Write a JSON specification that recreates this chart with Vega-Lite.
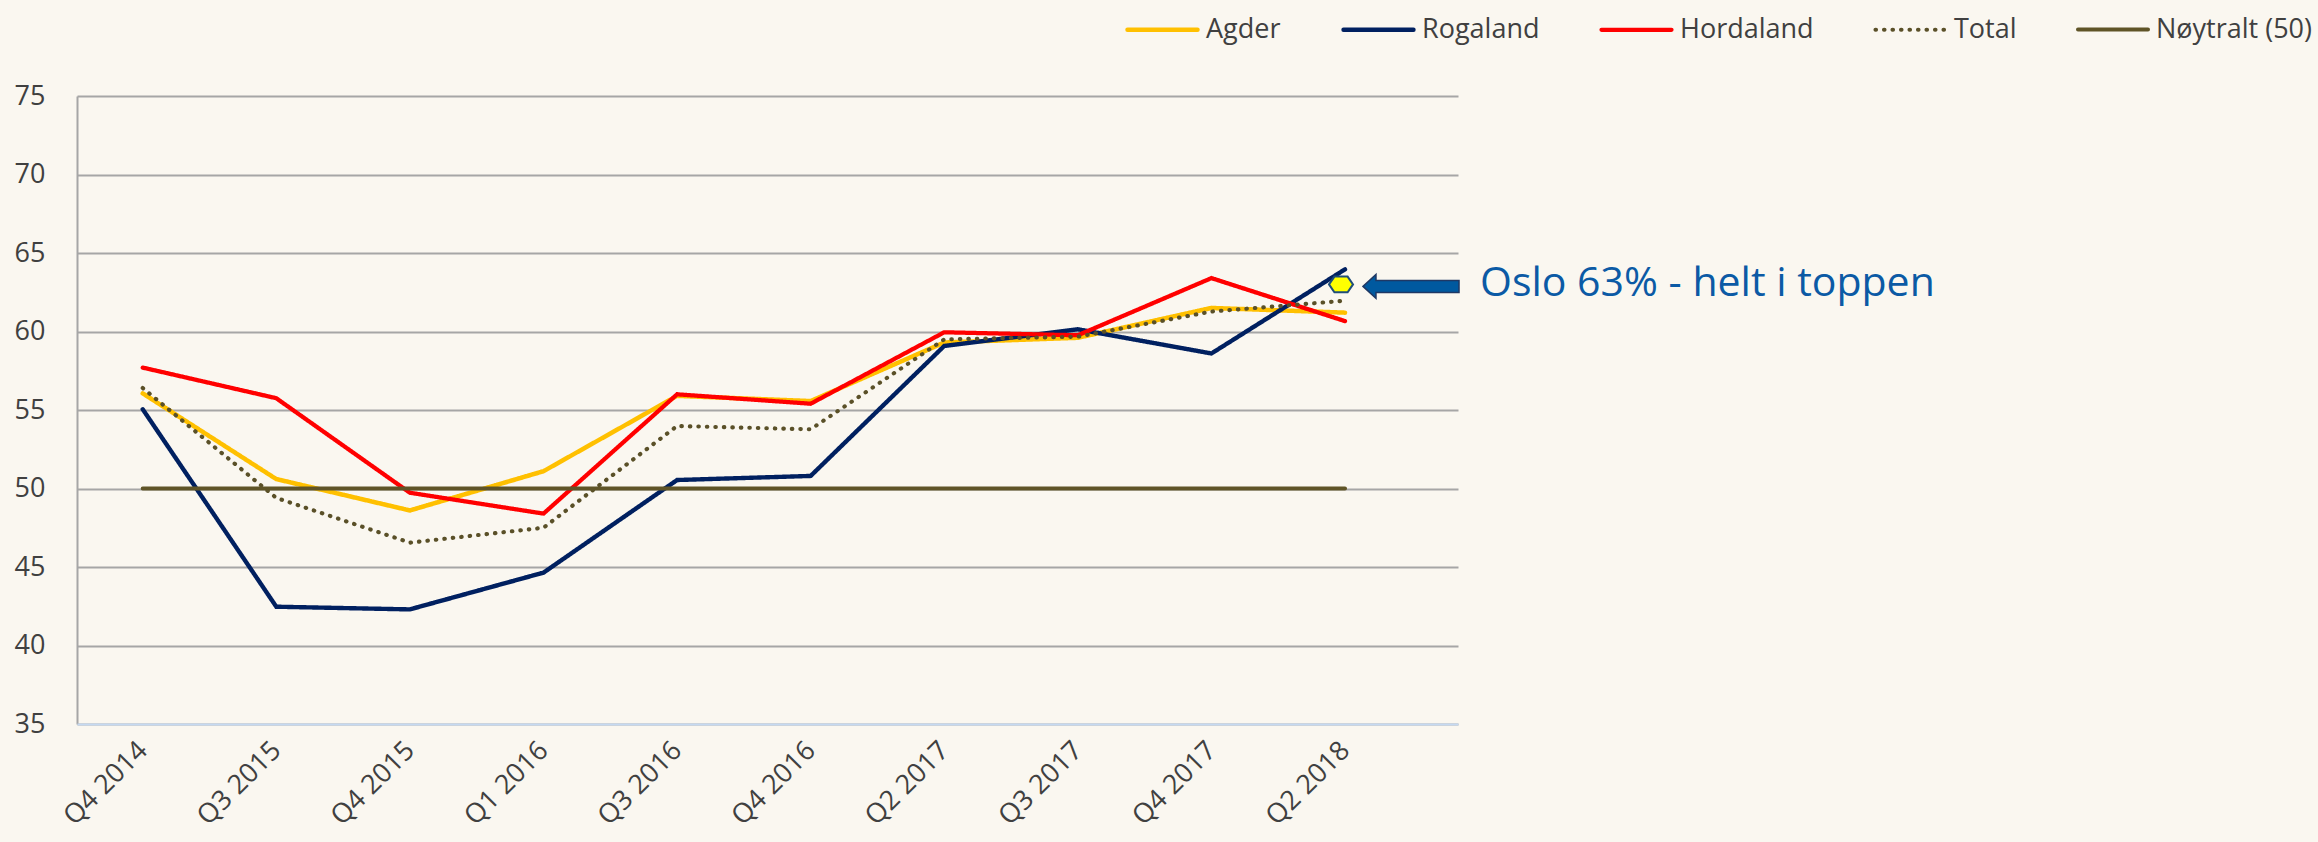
{
  "$schema": "https://vega.github.io/schema/vega-lite/v6.json",
  "autosize": {"type": "none"},
  "padding": {"left": 77, "top": 96, "right": 860, "bottom": 118},
  "width": 1381,
  "height": 628,
  "background": "#faf7f0",
  "config": {
    "view": {"stroke": null},
    "font": "Open Sans",
    "legend": {"labelFont": "Open Sans", "labelFontSize": 27, "labelColor": "#404040"}
  },
  "datasets": {
    "series": [
      {"quarter": "Q4 2014", "serie": "Agder", "value": 56.06},
      {"quarter": "Q3 2015", "serie": "Agder", "value": 50.6},
      {"quarter": "Q4 2015", "serie": "Agder", "value": 48.6},
      {"quarter": "Q1 2016", "serie": "Agder", "value": 51.1},
      {"quarter": "Q3 2016", "serie": "Agder", "value": 55.9},
      {"quarter": "Q4 2016", "serie": "Agder", "value": 55.57},
      {"quarter": "Q2 2017", "serie": "Agder", "value": 59.3},
      {"quarter": "Q3 2017", "serie": "Agder", "value": 59.6},
      {"quarter": "Q4 2017", "serie": "Agder", "value": 61.5},
      {"quarter": "Q2 2018", "serie": "Agder", "value": 61.2},
      {"quarter": "Q4 2014", "serie": "Rogaland", "value": 55.05},
      {"quarter": "Q3 2015", "serie": "Rogaland", "value": 42.47},
      {"quarter": "Q4 2015", "serie": "Rogaland", "value": 42.3},
      {"quarter": "Q1 2016", "serie": "Rogaland", "value": 44.64},
      {"quarter": "Q3 2016", "serie": "Rogaland", "value": 50.54},
      {"quarter": "Q4 2016", "serie": "Rogaland", "value": 50.8},
      {"quarter": "Q2 2017", "serie": "Rogaland", "value": 59.08},
      {"quarter": "Q3 2017", "serie": "Rogaland", "value": 60.14},
      {"quarter": "Q4 2017", "serie": "Rogaland", "value": 58.6},
      {"quarter": "Q2 2018", "serie": "Rogaland", "value": 63.96},
      {"quarter": "Q4 2014", "serie": "Hordaland", "value": 57.7},
      {"quarter": "Q3 2015", "serie": "Hordaland", "value": 55.75},
      {"quarter": "Q4 2015", "serie": "Hordaland", "value": 49.73},
      {"quarter": "Q1 2016", "serie": "Hordaland", "value": 48.4},
      {"quarter": "Q3 2016", "serie": "Hordaland", "value": 56.0},
      {"quarter": "Q4 2016", "serie": "Hordaland", "value": 55.4},
      {"quarter": "Q2 2017", "serie": "Hordaland", "value": 59.95},
      {"quarter": "Q3 2017", "serie": "Hordaland", "value": 59.76},
      {"quarter": "Q4 2017", "serie": "Hordaland", "value": 63.4},
      {"quarter": "Q2 2018", "serie": "Hordaland", "value": 60.66},
      {"quarter": "Q4 2014", "serie": "Total", "value": 56.4},
      {"quarter": "Q3 2015", "serie": "Total", "value": 49.4},
      {"quarter": "Q4 2015", "serie": "Total", "value": 46.55},
      {"quarter": "Q1 2016", "serie": "Total", "value": 47.5},
      {"quarter": "Q3 2016", "serie": "Total", "value": 53.98},
      {"quarter": "Q4 2016", "serie": "Total", "value": 53.77},
      {"quarter": "Q2 2017", "serie": "Total", "value": 59.5},
      {"quarter": "Q3 2017", "serie": "Total", "value": 59.67},
      {"quarter": "Q4 2017", "serie": "Total", "value": 61.27},
      {"quarter": "Q2 2018", "serie": "Total", "value": 61.96},
      {"quarter": "Q4 2014", "serie": "Nøytralt (50)", "value": 50},
      {"quarter": "Q3 2015", "serie": "Nøytralt (50)", "value": 50},
      {"quarter": "Q4 2015", "serie": "Nøytralt (50)", "value": 50},
      {"quarter": "Q1 2016", "serie": "Nøytralt (50)", "value": 50},
      {"quarter": "Q3 2016", "serie": "Nøytralt (50)", "value": 50},
      {"quarter": "Q4 2016", "serie": "Nøytralt (50)", "value": 50},
      {"quarter": "Q2 2017", "serie": "Nøytralt (50)", "value": 50},
      {"quarter": "Q3 2017", "serie": "Nøytralt (50)", "value": 50},
      {"quarter": "Q4 2017", "serie": "Nøytralt (50)", "value": 50},
      {"quarter": "Q2 2018", "serie": "Nøytralt (50)", "value": 50}
    ],
    "oslo": [
      {"quarter": "Q2 2018", "value": 63, "label": "Oslo 63% - helt i toppen"}
    ]
  },
  "encoding": {
    "x": {
      "field": "quarter",
      "type": "ordinal",
      "sort": null,
      "scale": {"type": "point", "padding": 0.6688, "align": 0.3677},
      "axis": {
        "title": null,
        "labelAngle": -45,
        "labelAlign": "right",
        "labelBaseline": "middle",
        "labelFont": "Open Sans",
        "labelFontSize": 27,
        "labelColor": "#404040",
        "labelPadding": 22,
        "ticks": false,
        "grid": false,
        "domainColor": "#c5d9f1",
        "domainWidth": 2,
        "zindex": 1
      }
    },
    "y": {
      "field": "value",
      "type": "quantitative",
      "scale": {"domain": [35, 75], "nice": false, "zero": false},
      "axis": {
        "title": null,
        "values": [35, 40, 45, 50, 55, 60, 65, 70, 75],
        "labelFont": "Open Sans",
        "labelFontSize": 27,
        "labelColor": "#404040",
        "labelPadding": 32,
        "ticks": false,
        "grid": true,
        "gridColor": "#a6a6a6",
        "gridWidth": 2,
        "domainColor": "#a6a6a6",
        "domainWidth": 2
      }
    }
  },
  "layer": [
    {
      "data": {"name": "series"},
      "mark": {"type": "line", "strokeCap": "round", "strokeJoin": "miter"},
      "encoding": {
        "color": {
          "field": "serie",
          "type": "nominal",
          "scale": {
            "domain": ["Agder", "Rogaland", "Hordaland", "Total", "Nøytralt (50)"],
            "range": ["#ffc000", "#002060", "#ff0000", "#5a5028", "#5f5427"]
          },
          "legend": {
            "title": null,
            "orient": "none",
            "legendX": 1048,
            "legendY": -104,
            "direction": "horizontal",
            "symbolSize": 4900,
            "columnPadding": 53,
            "labelOffset": 6,
            "symbolType": "stroke",
            "encode": {"symbols": {"update": {"strokeCap": {"value": "round"}}}}
          }
        },
        "strokeDash": {
          "field": "serie",
          "type": "nominal",
          "scale": {
            "domain": ["Agder", "Rogaland", "Hordaland", "Total", "Nøytralt (50)"],
            "range": [[1, 0], [1, 0], [1, 0], [0.5, 8], [1, 0]]
          },
          "legend": {"title": null}
        },
        "strokeWidth": {
          "field": "serie",
          "type": "nominal",
          "scale": {
            "domain": ["Agder", "Rogaland", "Hordaland", "Total", "Nøytralt (50)"],
            "range": [4.5, 4, 6, 4.5, 4.5]
          },
          "legend": {"title": null}
        }
      }
    },
    {
      "data": {"name": "oslo"},
      "mark": {
        "type": "point",
        "shape": "M-1,0L-0.55,-0.65L0.55,-0.65L1,0L0.55,0.65L-0.55,0.65Z",
        "size": 576,
        "filled": true,
        "fill": "#ffff00",
        "stroke": "#1f4e79",
        "strokeWidth": 2,
        "opacity": 1,
        "xOffset": -4
      }
    },
    {
      "data": {"name": "oslo"},
      "mark": {
        "type": "point",
        "shape": "M-1,0L-0.73,-0.25L-0.73,-0.125L1,-0.125L1,0.125L-0.73,0.125L-0.73,0.25Z",
        "size": 9216,
        "filled": true,
        "fill": "#00599f",
        "stroke": "#1f3864",
        "strokeWidth": 1.5,
        "opacity": 1,
        "xOffset": 66,
        "yOffset": 2
      }
    },
    {
      "data": {"name": "oslo"},
      "mark": {
        "type": "text",
        "align": "left",
        "baseline": "middle",
        "dx": 135,
        "font": "Open Sans",
        "fontSize": 41,
        "color": "#0b5aa5"
      },
      "encoding": {"text": {"field": "label"}}
    }
  ]
}
